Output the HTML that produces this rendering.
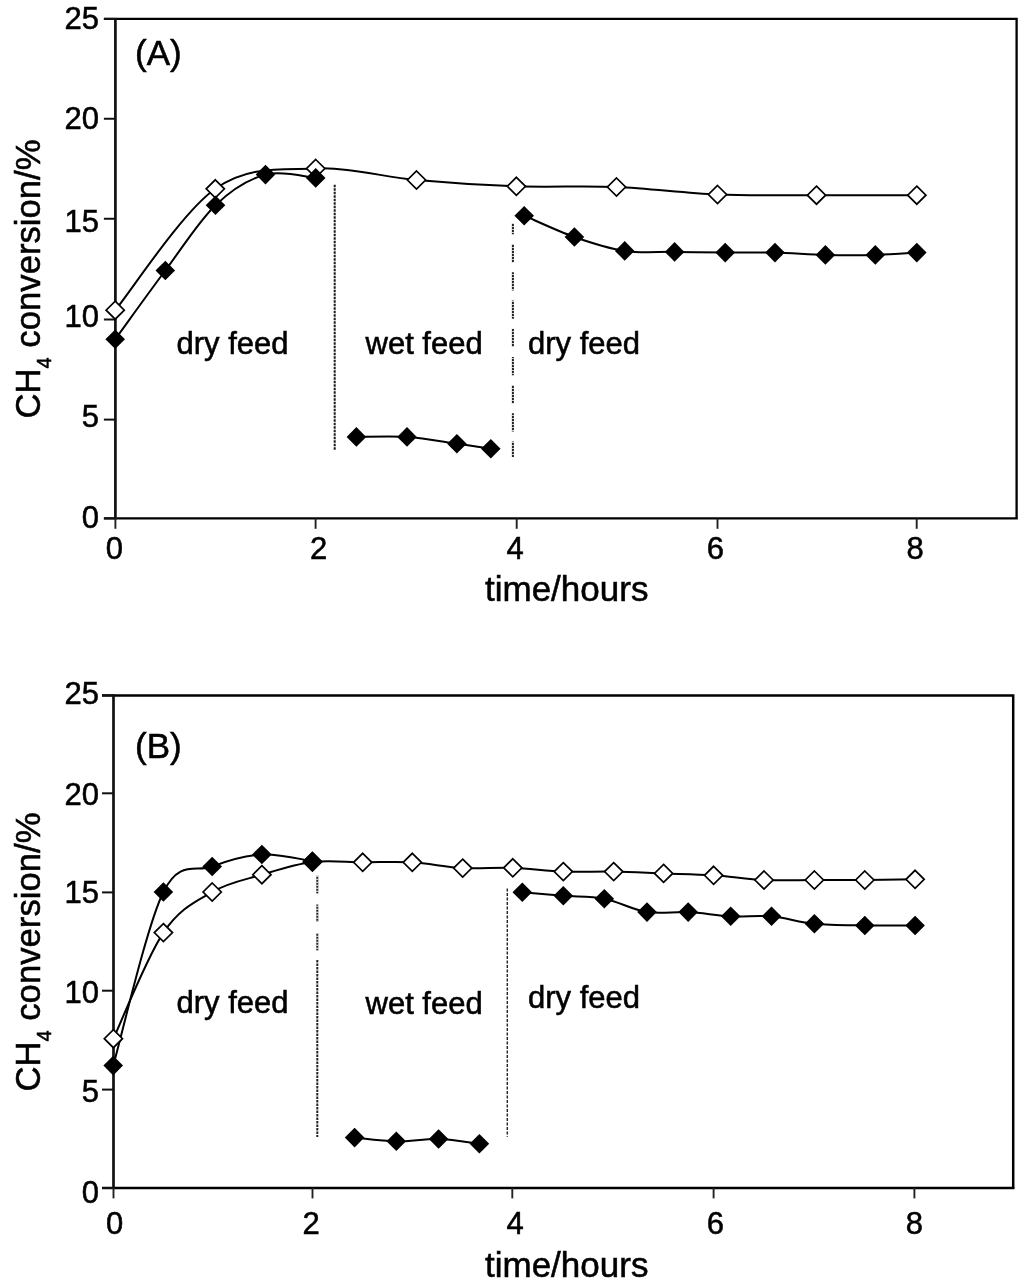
<!DOCTYPE html>
<html><head><meta charset="utf-8"><title>CH4 conversion vs time</title>
<style>html,body{margin:0;padding:0;background:#fff;}svg{display:block;will-change:transform;}text{stroke:#000;stroke-width:0.55px;}</style></head>
<body>
<svg width="1024" height="1284" viewBox="0 0 1024 1284" font-family='"Liberation Sans", sans-serif' fill="#000">
<rect width="1024" height="1284" fill="#fff"/>
<path d="M103.9,18.9 L1016.6,18.9 L1016.6,518.3" fill="none" stroke="#000" stroke-width="2.3"/>
<line x1="103.9" y1="518.3" x2="1017.75" y2="518.3" stroke="#000" stroke-width="2.3"/>
<line x1="115.4" y1="17.9" x2="115.4" y2="519.3" stroke="#111" stroke-width="2.7"/>
<line x1="103.9" y1="18.9" x2="115.4" y2="18.9" stroke="#111" stroke-width="2"/>
<line x1="103.9" y1="118.75" x2="115.4" y2="118.75" stroke="#111" stroke-width="2"/>
<line x1="103.9" y1="218.75" x2="115.4" y2="218.75" stroke="#111" stroke-width="2"/>
<line x1="103.9" y1="319.5" x2="115.4" y2="319.5" stroke="#111" stroke-width="2"/>
<line x1="103.9" y1="419.6" x2="115.4" y2="419.6" stroke="#111" stroke-width="2"/>
<line x1="103.9" y1="518.4" x2="115.4" y2="518.4" stroke="#111" stroke-width="2"/>
<line x1="115.4" y1="518.3" x2="115.4" y2="528.8" stroke="#222" stroke-width="1.9"/>
<line x1="315.6" y1="518.3" x2="315.6" y2="528.8" stroke="#222" stroke-width="1.9"/>
<line x1="516.7" y1="518.3" x2="516.7" y2="528.8" stroke="#222" stroke-width="1.9"/>
<line x1="717.5" y1="518.3" x2="717.5" y2="528.8" stroke="#222" stroke-width="1.9"/>
<line x1="916.7" y1="518.3" x2="916.7" y2="528.8" stroke="#222" stroke-width="1.9"/>
<text x="99" y="29.2" font-size="31" text-anchor="end">25</text>
<text x="99" y="128.7" font-size="31" text-anchor="end">20</text>
<text x="99" y="232.2" font-size="31" text-anchor="end">15</text>
<text x="99" y="327.3" font-size="31" text-anchor="end">10</text>
<text x="99" y="427.0" font-size="31" text-anchor="end">5</text>
<text x="99" y="528.4" font-size="31" text-anchor="end">0</text>
<text x="114.4" y="558.7" font-size="31" text-anchor="middle">0</text>
<text x="318.5" y="558.7" font-size="31" text-anchor="middle">2</text>
<text x="515" y="558.7" font-size="31" text-anchor="middle">4</text>
<text x="715.3" y="558.7" font-size="31" text-anchor="middle">6</text>
<text x="915" y="558.7" font-size="31" text-anchor="middle">8</text>
<line x1="334.7" y1="184.8" x2="334.7" y2="450.7" stroke="#1a1a1a" stroke-width="2" stroke-dasharray="2.5 1"/>
<line x1="512.9" y1="223.2" x2="512.9" y2="457" stroke="#222" stroke-width="2" stroke-dasharray="18.3 9.9" stroke-dashoffset="7.3"/>
<line x1="512.9" y1="223.2" x2="512.9" y2="457" stroke="#fff" stroke-width="2.2" stroke-dasharray="0.9 2.1"/>
<path d="M115.2,310.2 C131.9,290.0 181.9,212.4 215.3,188.8 C248.7,165.2 282.2,170.0 315.7,168.5 C349.2,167.0 383.1,177.0 416.5,180.0 C449.9,183.0 483.1,185.1 516.4,186.3 C549.7,187.5 583.0,185.6 616.5,187.0 C650.0,188.4 684.2,193.1 717.5,194.5 C750.8,195.9 783.3,195.1 816.5,195.2 C849.7,195.3 900.1,195.2 916.8,195.2" fill="none" stroke="#000" stroke-width="2.0" stroke-linejoin="round"/>

<path d="M115.2,339.2 C123.6,327.8 148.6,292.8 165.3,270.5 C182.0,248.2 198.8,221.2 215.5,205.2 C232.2,189.2 248.8,179.1 265.5,174.6 C282.2,170.1 307.3,177.3 315.7,177.9" fill="none" stroke="#000" stroke-width="2.0" stroke-linejoin="round"/>

<path d="M356.4,436.9 C364.8,436.9 390.2,435.8 407.0,436.9 C423.8,438.0 442.9,441.7 456.9,443.7 C470.9,445.7 485.1,447.9 490.8,448.7" fill="none" stroke="#000" stroke-width="2.0" stroke-linejoin="round"/>

<path d="M524.2,215.7 C532.6,219.2 557.6,231.1 574.4,237.0 C591.1,242.9 608.0,248.4 624.7,250.9 C641.4,253.4 657.9,251.6 674.6,251.9 C691.4,252.2 708.5,252.5 725.2,252.6 C741.9,252.7 758.3,252.2 775.0,252.6 C791.7,253.0 808.7,254.5 825.4,254.9 C842.1,255.3 860.1,255.3 875.3,254.9 C890.5,254.5 909.9,253.0 916.8,252.6" fill="none" stroke="#000" stroke-width="2.0" stroke-linejoin="round"/>

<path d="M115.2,301.2 L124.3,310.2 L115.2,319.2 L106.1,310.2 Z" fill="#fff" stroke="#000" stroke-width="1.7"/>
<path d="M215.3,179.8 L224.4,188.8 L215.3,197.8 L206.2,188.8 Z" fill="#fff" stroke="#000" stroke-width="1.7"/>
<path d="M315.7,159.5 L324.8,168.5 L315.7,177.5 L306.6,168.5 Z" fill="#fff" stroke="#000" stroke-width="1.7"/>
<path d="M416.5,171.0 L425.6,180.0 L416.5,189.0 L407.4,180.0 Z" fill="#fff" stroke="#000" stroke-width="1.7"/>
<path d="M516.4,177.3 L525.5,186.3 L516.4,195.3 L507.3,186.3 Z" fill="#fff" stroke="#000" stroke-width="1.7"/>
<path d="M616.5,178.0 L625.6,187.0 L616.5,196.0 L607.4,187.0 Z" fill="#fff" stroke="#000" stroke-width="1.7"/>
<path d="M717.5,185.5 L726.6,194.5 L717.5,203.5 L708.4,194.5 Z" fill="#fff" stroke="#000" stroke-width="1.7"/>
<path d="M816.5,186.2 L825.6,195.2 L816.5,204.2 L807.4,195.2 Z" fill="#fff" stroke="#000" stroke-width="1.7"/>
<path d="M916.8,186.2 L925.9,195.2 L916.8,204.2 L907.7,195.2 Z" fill="#fff" stroke="#000" stroke-width="1.7"/>
<path d="M115.2,329.4 L125.0,339.2 L115.2,349.0 L105.4,339.2 Z" fill="#000"/>
<path d="M165.3,260.7 L175.1,270.5 L165.3,280.3 L155.5,270.5 Z" fill="#000"/>
<path d="M215.5,195.4 L225.3,205.2 L215.5,215.0 L205.7,205.2 Z" fill="#000"/>
<path d="M265.5,164.8 L275.3,174.6 L265.5,184.4 L255.7,174.6 Z" fill="#000"/>
<path d="M315.7,168.1 L325.5,177.9 L315.7,187.7 L305.9,177.9 Z" fill="#000"/>
<path d="M356.4,427.1 L366.2,436.9 L356.4,446.7 L346.6,436.9 Z" fill="#000"/>
<path d="M407.0,427.1 L416.8,436.9 L407.0,446.7 L397.2,436.9 Z" fill="#000"/>
<path d="M456.9,433.9 L466.7,443.7 L456.9,453.5 L447.1,443.7 Z" fill="#000"/>
<path d="M490.8,438.9 L500.6,448.7 L490.8,458.5 L481.0,448.7 Z" fill="#000"/>
<path d="M524.2,205.9 L534.0,215.7 L524.2,225.5 L514.4,215.7 Z" fill="#000"/>
<path d="M574.4,227.2 L584.2,237.0 L574.4,246.8 L564.6,237.0 Z" fill="#000"/>
<path d="M624.7,241.1 L634.5,250.9 L624.7,260.7 L614.9,250.9 Z" fill="#000"/>
<path d="M674.6,242.1 L684.4,251.9 L674.6,261.7 L664.8,251.9 Z" fill="#000"/>
<path d="M725.2,242.8 L735.0,252.6 L725.2,262.4 L715.4,252.6 Z" fill="#000"/>
<path d="M775.0,242.8 L784.8,252.6 L775.0,262.4 L765.2,252.6 Z" fill="#000"/>
<path d="M825.4,245.1 L835.2,254.9 L825.4,264.7 L815.6,254.9 Z" fill="#000"/>
<path d="M875.3,245.1 L885.1,254.9 L875.3,264.7 L865.5,254.9 Z" fill="#000"/>
<path d="M916.8,242.8 L926.6,252.6 L916.8,262.4 L907.0,252.6 Z" fill="#000"/>
<text x="135" y="65" font-size="35">(A)</text>
<text x="176.5" y="353.5" font-size="31">dry feed</text>
<text x="365.5" y="353.5" font-size="31">wet feed</text>
<text x="528" y="353.5" font-size="31">dry feed</text>
<text transform="translate(40,418.5) rotate(-90)" font-size="34.7">CH<tspan font-size="20" dy="11">4</tspan><tspan dy="-11"> conversion/%</tspan></text>
<text x="485" y="601" font-size="35">time/hours</text>
<path d="M102.0,695.6 L1013.2,695.6 L1013.2,1187.9" fill="none" stroke="#000" stroke-width="2.5"/>
<line x1="102.0" y1="1187.9" x2="1014.45" y2="1187.9" stroke="#000" stroke-width="2.5"/>
<line x1="113.5" y1="694.6" x2="113.5" y2="1188.9" stroke="#111" stroke-width="2.7"/>
<line x1="102.0" y1="695.3" x2="113.5" y2="695.3" stroke="#111" stroke-width="2"/>
<line x1="102.0" y1="793.3" x2="113.5" y2="793.3" stroke="#111" stroke-width="2"/>
<line x1="102.0" y1="892.4" x2="113.5" y2="892.4" stroke="#111" stroke-width="2"/>
<line x1="102.0" y1="990.7" x2="113.5" y2="990.7" stroke="#111" stroke-width="2"/>
<line x1="102.0" y1="1089.6" x2="113.5" y2="1089.6" stroke="#111" stroke-width="2"/>
<line x1="102.0" y1="1188" x2="113.5" y2="1188" stroke="#111" stroke-width="2"/>
<line x1="113.5" y1="1187.9" x2="113.5" y2="1198.4" stroke="#222" stroke-width="1.9"/>
<line x1="312.5" y1="1187.9" x2="312.5" y2="1198.4" stroke="#222" stroke-width="1.9"/>
<line x1="512.3" y1="1187.9" x2="512.3" y2="1198.4" stroke="#222" stroke-width="1.9"/>
<line x1="713.6" y1="1187.9" x2="713.6" y2="1198.4" stroke="#222" stroke-width="1.9"/>
<line x1="914.4" y1="1187.9" x2="914.4" y2="1198.4" stroke="#222" stroke-width="1.9"/>
<text x="99" y="704.1" font-size="31" text-anchor="end">25</text>
<text x="99" y="804.6" font-size="31" text-anchor="end">20</text>
<text x="99" y="903.2" font-size="31" text-anchor="end">15</text>
<text x="99" y="1002.8" font-size="31" text-anchor="end">10</text>
<text x="99" y="1102.1" font-size="31" text-anchor="end">5</text>
<text x="99" y="1202.7" font-size="31" text-anchor="end">0</text>
<text x="114.5" y="1234.3" font-size="31" text-anchor="middle">0</text>
<text x="311" y="1234.3" font-size="31" text-anchor="middle">2</text>
<text x="515" y="1234.3" font-size="31" text-anchor="middle">4</text>
<text x="715.3" y="1234.3" font-size="31" text-anchor="middle">6</text>
<text x="914.4" y="1234.3" font-size="31" text-anchor="middle">8</text>
<line x1="317.3" y1="875.8" x2="317.3" y2="958" stroke="#222" stroke-width="2" stroke-dasharray="17.6 11"/>
<line x1="317.3" y1="875.8" x2="317.3" y2="958" stroke="#fff" stroke-width="2.2" stroke-dasharray="0.9 2.1"/>
<line x1="317.3" y1="960" x2="317.3" y2="1137" stroke="#222" stroke-width="2" stroke-dasharray="2.5 1"/>
<line x1="507.3" y1="888.6" x2="507.3" y2="1136.8" stroke="#222" stroke-width="1.4" stroke-dasharray="3 1.5"/>
<path d="M113.4,1038.7 C121.7,1021.0 146.9,957.1 163.4,932.6 C179.9,908.1 195.8,901.6 212.2,892.0 C228.6,882.4 245.2,879.7 261.9,874.7 C278.6,869.7 295.6,864.1 312.4,862.0 C329.2,859.9 346.0,862.2 362.7,862.3 C379.4,862.3 395.6,861.3 412.3,862.3 C429.0,863.3 445.9,867.2 462.7,868.1 C479.4,869.0 496.0,867.2 512.8,867.8 C529.6,868.4 546.5,871.0 563.3,871.6 C580.1,872.2 597.0,871.3 613.7,871.6 C630.4,871.9 647.0,872.8 663.6,873.4 C680.2,874.0 696.9,874.2 713.6,875.3 C730.3,876.4 747.2,879.2 764.0,880.0 C780.8,880.8 797.6,880.0 814.4,880.0 C831.2,880.0 848.0,880.1 864.8,880.0 C881.6,879.9 906.7,879.4 915.1,879.3" fill="none" stroke="#000" stroke-width="2.0" stroke-linejoin="round"/>

<path d="M113.2,1065.6 C121.6,1036.7 146.9,925.2 163.4,892.0 C179.9,858.8 195.8,872.8 212.2,866.5 C228.6,860.2 245.2,855.4 261.9,854.5 C278.6,853.6 304.0,860.0 312.4,861.1" fill="none" stroke="#000" stroke-width="2.0" stroke-linejoin="round"/>

<path d="M354.6,1137.6 C361.6,1138.2 382.3,1141.1 396.3,1141.3 C410.3,1141.5 424.8,1138.6 438.6,1139.0 C452.5,1139.4 472.6,1142.9 479.4,1143.7" fill="none" stroke="#000" stroke-width="2.0" stroke-linejoin="round"/>

<path d="M522.3,892.2 C529.1,892.8 549.6,894.6 563.3,895.7 C577.0,896.8 590.3,896.0 604.3,898.7 C618.2,901.4 633.0,909.9 647.0,912.1 C661.0,914.3 674.2,911.4 688.2,912.1 C702.2,912.8 716.8,915.6 730.7,916.3 C744.6,917.0 757.5,915.0 771.5,916.3 C785.5,917.5 798.9,922.3 814.4,923.8 C829.9,925.3 848.0,925.2 864.8,925.5 C881.6,925.8 906.7,925.5 915.1,925.5" fill="none" stroke="#000" stroke-width="2.0" stroke-linejoin="round"/>

<path d="M113.4,1029.7 L122.5,1038.7 L113.4,1047.7 L104.3,1038.7 Z" fill="#fff" stroke="#000" stroke-width="1.7"/>
<path d="M163.4,923.6 L172.5,932.6 L163.4,941.6 L154.3,932.6 Z" fill="#fff" stroke="#000" stroke-width="1.7"/>
<path d="M212.2,883.0 L221.3,892.0 L212.2,901.0 L203.1,892.0 Z" fill="#fff" stroke="#000" stroke-width="1.7"/>
<path d="M261.9,865.7 L271.0,874.7 L261.9,883.7 L252.8,874.7 Z" fill="#fff" stroke="#000" stroke-width="1.7"/>
<path d="M312.4,853.0 L321.5,862.0 L312.4,871.0 L303.3,862.0 Z" fill="#fff" stroke="#000" stroke-width="1.7"/>
<path d="M362.7,853.3 L371.8,862.3 L362.7,871.3 L353.6,862.3 Z" fill="#fff" stroke="#000" stroke-width="1.7"/>
<path d="M412.3,853.3 L421.4,862.3 L412.3,871.3 L403.2,862.3 Z" fill="#fff" stroke="#000" stroke-width="1.7"/>
<path d="M462.7,859.1 L471.8,868.1 L462.7,877.1 L453.6,868.1 Z" fill="#fff" stroke="#000" stroke-width="1.7"/>
<path d="M512.8,858.8 L521.9,867.8 L512.8,876.8 L503.7,867.8 Z" fill="#fff" stroke="#000" stroke-width="1.7"/>
<path d="M563.3,862.6 L572.4,871.6 L563.3,880.6 L554.2,871.6 Z" fill="#fff" stroke="#000" stroke-width="1.7"/>
<path d="M613.7,862.6 L622.8,871.6 L613.7,880.6 L604.6,871.6 Z" fill="#fff" stroke="#000" stroke-width="1.7"/>
<path d="M663.6,864.4 L672.7,873.4 L663.6,882.4 L654.5,873.4 Z" fill="#fff" stroke="#000" stroke-width="1.7"/>
<path d="M713.6,866.3 L722.7,875.3 L713.6,884.3 L704.5,875.3 Z" fill="#fff" stroke="#000" stroke-width="1.7"/>
<path d="M764.0,871.0 L773.1,880.0 L764.0,889.0 L754.9,880.0 Z" fill="#fff" stroke="#000" stroke-width="1.7"/>
<path d="M814.4,871.0 L823.5,880.0 L814.4,889.0 L805.3,880.0 Z" fill="#fff" stroke="#000" stroke-width="1.7"/>
<path d="M864.8,871.0 L873.9,880.0 L864.8,889.0 L855.7,880.0 Z" fill="#fff" stroke="#000" stroke-width="1.7"/>
<path d="M915.1,870.3 L924.2,879.3 L915.1,888.3 L906.0,879.3 Z" fill="#fff" stroke="#000" stroke-width="1.7"/>
<path d="M113.2,1055.8 L123.0,1065.6 L113.2,1075.4 L103.4,1065.6 Z" fill="#000"/>
<path d="M163.4,882.2 L173.2,892.0 L163.4,901.8 L153.6,892.0 Z" fill="#000"/>
<path d="M212.2,856.7 L222.0,866.5 L212.2,876.3 L202.4,866.5 Z" fill="#000"/>
<path d="M261.9,844.7 L271.7,854.5 L261.9,864.3 L252.1,854.5 Z" fill="#000"/>
<path d="M312.4,851.3 L322.2,861.1 L312.4,870.9 L302.6,861.1 Z" fill="#000"/>
<path d="M354.6,1127.8 L364.4,1137.6 L354.6,1147.4 L344.8,1137.6 Z" fill="#000"/>
<path d="M396.3,1131.5 L406.1,1141.3 L396.3,1151.1 L386.5,1141.3 Z" fill="#000"/>
<path d="M438.6,1129.2 L448.4,1139.0 L438.6,1148.8 L428.8,1139.0 Z" fill="#000"/>
<path d="M479.4,1133.9 L489.2,1143.7 L479.4,1153.5 L469.6,1143.7 Z" fill="#000"/>
<path d="M522.3,882.4 L532.1,892.2 L522.3,902.0 L512.5,892.2 Z" fill="#000"/>
<path d="M563.3,885.9 L573.1,895.7 L563.3,905.5 L553.5,895.7 Z" fill="#000"/>
<path d="M604.3,888.9 L614.1,898.7 L604.3,908.5 L594.5,898.7 Z" fill="#000"/>
<path d="M647.0,902.3 L656.8,912.1 L647.0,921.9 L637.2,912.1 Z" fill="#000"/>
<path d="M688.2,902.3 L698.0,912.1 L688.2,921.9 L678.4,912.1 Z" fill="#000"/>
<path d="M730.7,906.5 L740.5,916.3 L730.7,926.1 L720.9,916.3 Z" fill="#000"/>
<path d="M771.5,906.5 L781.3,916.3 L771.5,926.1 L761.7,916.3 Z" fill="#000"/>
<path d="M814.4,914.0 L824.2,923.8 L814.4,933.6 L804.6,923.8 Z" fill="#000"/>
<path d="M864.8,915.7 L874.6,925.5 L864.8,935.3 L855.0,925.5 Z" fill="#000"/>
<path d="M915.1,915.7 L924.9,925.5 L915.1,935.3 L905.3,925.5 Z" fill="#000"/>
<text x="135" y="758" font-size="35">(B)</text>
<text x="176.5" y="1012.5" font-size="31">dry feed</text>
<text x="365.5" y="1013.5" font-size="31">wet feed</text>
<text x="528" y="1007.8" font-size="31">dry feed</text>
<text transform="translate(40,1091.6) rotate(-90)" font-size="34.7">CH<tspan font-size="20" dy="11">4</tspan><tspan dy="-11"> conversion/%</tspan></text>
<text x="485" y="1277" font-size="35">time/hours</text>
</svg>
</body></html>
